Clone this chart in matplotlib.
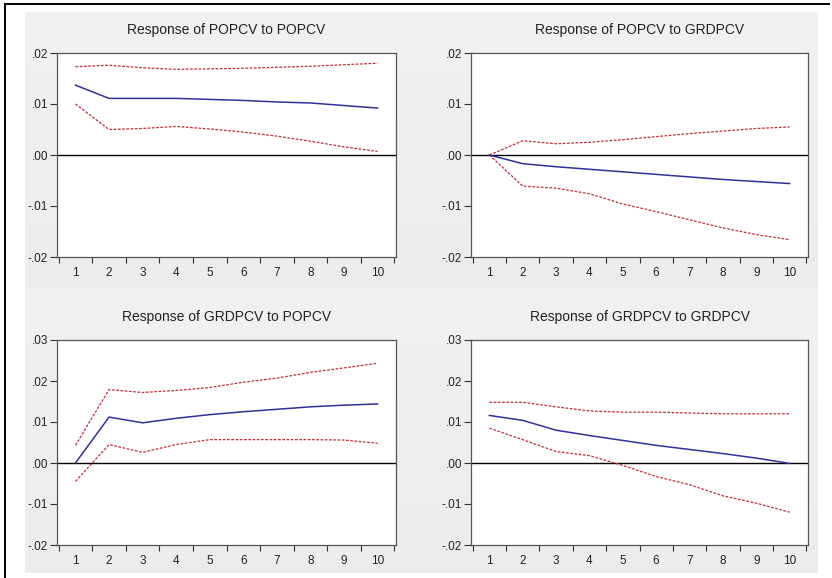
import matplotlib
matplotlib.use("Agg")
import matplotlib.pyplot as plt
from matplotlib.lines import Line2D
import numpy as np

plt.rcParams['font.family'] = ['Liberation Sans', 'DejaVu Sans']

periods = list(range(1, 11))

titles = ["Response of POPCV to POPCV", "Response of POPCV to GRDPCV",
          "Response of GRDPCV to POPCV", "Response of GRDPCV to GRDPCV"]

# Panel 1: POPCV -> POPCV
p1_resp = [0.0137, 0.0111, 0.0111, 0.0111, 0.0109, 0.0107, 0.0104, 0.0102, 0.0097, 0.0092]
p1_upper = [0.0173, 0.0176, 0.0171, 0.0168, 0.0169, 0.0170, 0.0172, 0.0174, 0.0177, 0.0180]
p1_lower = [0.0100, 0.0050, 0.0052, 0.0056, 0.0051, 0.0045, 0.0037, 0.0027, 0.0016, 0.0007]

# Panel 2: POPCV -> GRDPCV
p2_resp = [0.0000, -0.0017, -0.0023, -0.0028, -0.0033, -0.0038, -0.0043, -0.0048, -0.0052, -0.0056]
p2_upper = [0.0000, 0.0028, 0.0022, 0.0025, 0.0030, 0.0036, 0.0042, 0.0047, 0.0052, 0.0055]
p2_lower = [0.0000, -0.0061, -0.0065, -0.0076, -0.0096, -0.0111, -0.0127, -0.0143, -0.0156, -0.0166]

# Panel 3: GRDPCV -> POPCV
p3_resp = [0.0000, 0.0112, 0.0098, 0.0109, 0.0118, 0.0125, 0.0131, 0.0137, 0.0141, 0.0144]
p3_upper = [0.0043, 0.0179, 0.0172, 0.0177, 0.0184, 0.0197, 0.0207, 0.0221, 0.0232, 0.0243]
p3_lower = [-0.0045, 0.0045, 0.0026, 0.0045, 0.0057, 0.0057, 0.0057, 0.0057, 0.0056, 0.0048]

# Panel 4: GRDPCV -> GRDPCV
p4_resp = [0.0116, 0.0104, 0.0080, 0.0067, 0.0055, 0.0043, 0.0033, 0.0023, 0.0012, -0.0001]
p4_upper = [0.0148, 0.0148, 0.0137, 0.0127, 0.0124, 0.0124, 0.0122, 0.0120, 0.0120, 0.0120]
p4_lower = [0.0085, 0.0057, 0.0028, 0.0018, -0.0006, -0.0033, -0.0053, -0.0080, -0.0098, -0.0120]

panels = [(p1_resp, p1_upper, p1_lower), (p2_resp, p2_upper, p2_lower),
          (p3_resp, p3_upper, p3_lower), (p4_resp, p4_upper, p4_lower)]

y_ticks_top = [-0.02, -0.01, 0.00, 0.01, 0.02]
y_labels_top = ["-.02", "-.01", ".00", ".01", ".02"]
y_ticks_bot = [-0.02, -0.01, 0.00, 0.01, 0.02, 0.03]
y_labels_bot = ["-.02", "-.01", ".00", ".01", ".02", ".03"]

W, H = 832, 578
fig = plt.figure(figsize=(W / 100, H / 100), dpi=100, facecolor='white')

# subtle gray gradient background, one band per row of panels
for (y0, y1) in [(12, 288), (288, 573)]:
    bg = fig.add_axes([25 / W, 1 - y1 / H, (818 - 25) / W, (y1 - y0) / H], zorder=0)
    grad = np.linspace(0.945, 0.925, 64).reshape(-1, 1)
    img = np.dstack([grad, grad, grad])
    bg.imshow(img, aspect='auto', extent=(0, 1, 0, 1), interpolation='bilinear')
    bg.set_axis_off()

# outer border (top and left)
fig.add_artist(Line2D([5 / W, 5 / W], [0, 1 - 4 / H], transform=fig.transFigure,
                      color='black', lw=1.4))
fig.add_artist(Line2D([5 / W, 829 / W], [1 - 4 / H, 1 - 4 / H], transform=fig.transFigure,
                      color='black', lw=1.4))

boxes = [(57, 396, 53, 257), (471, 808, 53, 257), (57, 396, 340, 545), (471, 808, 340, 545)]

blue = '#30309A'
red = '#C0303A'

for i, ((l, r, t, b), (resp, up, lo)) in enumerate(zip(boxes, panels)):
    ax = fig.add_axes([l / W, 1 - b / H, (r - l) / W, (b - t) / H], zorder=2)
    ax.set_facecolor('white')
    ax.axhline(0, color='black', lw=1.0, zorder=1)
    ax.plot(periods, up, color=red, lw=0.9, ls=(0, (2.2, 1.2)), zorder=2)
    ax.plot(periods, lo, color=red, lw=0.9, ls=(0, (2.2, 1.2)), zorder=2)
    ax.plot(periods, resp, color=blue, lw=1.1, zorder=3)
    ax.set_xlim(0.45, 10.55)
    if i < 2:
        ax.set_ylim(-0.02, 0.02)
        ax.set_yticks(y_ticks_top)
        ax.set_yticklabels(y_labels_top)
    else:
        ax.set_ylim(-0.02, 0.03)
        ax.set_yticks(y_ticks_bot)
        ax.set_yticklabels(y_labels_bot)
    ax.set_xticks(np.arange(0.5, 11.0, 1.0))
    ax.set_xticklabels([])
    ax.set_xticks(periods, minor=True)
    ax.set_xticklabels([str(p) for p in periods], minor=True)
    ax.tick_params(axis='x', which='major', direction='out', length=4, width=0.8, color='#333333')
    ax.tick_params(axis='x', which='minor', length=0, labelsize=8.5, pad=7, labelcolor='#222222')
    ax.tick_params(axis='y', direction='out', length=5, width=0.8, color='#333333',
                   labelsize=8.5, pad=1.5, labelcolor='#222222')
    for s in ax.spines.values():
        s.set_color('#555555')
        s.set_linewidth(0.9)
    ax.set_title(titles[i], fontsize=10, color='#222222', pad=14)

fig.savefig('out.png', dpi=100, facecolor='white')
